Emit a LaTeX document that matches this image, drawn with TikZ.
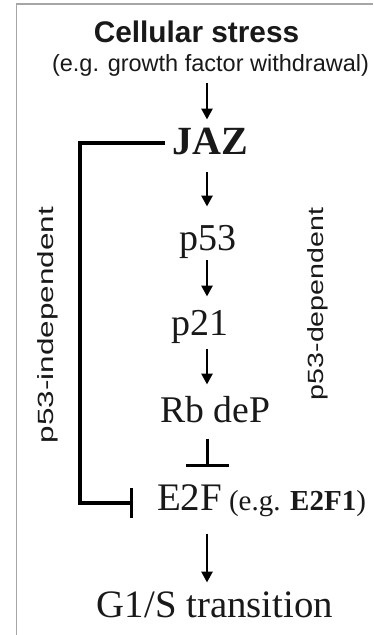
\documentclass[tikz,border=0pt]{standalone}
\usepackage{fontspec}
\setmainfont{Liberation Serif}
\setsansfont{Liberation Sans}
\usetikzlibrary{arrows.meta}
\newcommand{\fs}[1]{\fontsize{#1bp}{#1bp}\selectfont}
\begin{document}
\begin{tikzpicture}[x=1bp,y=-1bp,
  lbl/.style={inner sep=0pt, outer sep=0pt, text height=0pt, text depth=0pt, anchor=base, text=black!90},
  arr/.style={line width=2.8bp, -{Triangle[length=11bp,width=11bp]}},
  inh/.style={line width=3.2bp, -{Bar[width=30bp]}}
]
\useasboundingbox (0,0) rectangle (373,635);
\draw[gray!70, line width=1.4bp] (16.5,635) -- (16.5,4) -- (373,4);
\coordinate (ax) at (207,0);
\coordinate (lx) at (80,0);

\node[lbl, font=\sffamily\bfseries\fs{29.8}] (stress) at (196.5,43) {Cellular stress};
\node[lbl, font=\sffamily\fs{23.5}] (sub) at (210.5,72) {(e.g. growth factor withdrawal)};
\node[lbl, font=\rmfamily\bfseries\fs{40}] (JAZ) at (210,155) {JAZ};
\node[lbl, font=\rmfamily\fs{38}] (p53) at (208,250) {p53};
\node[lbl, font=\rmfamily\fs{38}] (p21) at (200,335) {p21};
\node[lbl, font=\rmfamily\fs{37.7}] (Rb) at (215,422) {Rb deP};
\node[lbl, anchor=base west, font=\rmfamily\fs{39}] (E2F) at (157,510) {E2F\hspace{7bp}{\fs{29}(e.g. \textbf{E2F1})}};
\node[lbl, font=\rmfamily\fs{38.8}] (G1S) at (215,617) {G1/S transition};

\node[lbl, anchor=center, font=\sffamily\fs{22}, rotate=90, xscale=1.43] (indep) at (53,325) {p53-independent};
\node[lbl, anchor=center, font=\sffamily\fs{22}, rotate=90, xscale=1.3] (dep) at (323,304) {p53-dependent};

\draw[arr, shorten <=11bp, shorten >=35bp] (sub.south -| ax) -- (JAZ.north -| ax);
\draw[arr, shorten <=17bp, shorten >=43bp] (JAZ.south -| ax) -- (p53.north -| ax);
\draw[arr, shorten <=10bp, shorten >=38bp] (p53.south -| ax) -- (p21.north -| ax);
\draw[arr, shorten <=13bp, shorten >=37bp] (p21.south -| ax) -- (Rb.north -| ax);
\draw[line width=3bp, -{Bar[width=43bp]}, shorten <=16bp, shorten >=43bp] (Rb.south -| ax) -- (E2F.north -| ax);
\draw[arr, shorten <=23bp, shorten >=34bp] (E2F.south -| ax) -- (G1S.north -| ax);

\coordinate (jzl) at ([yshift=12bp]JAZ.west);
\coordinate (e2l) at ([yshift=7bp]E2F.west);
\draw[inh, shorten <=7bp, shorten >=24bp] (jzl) -- (jzl -| lx) -- (e2l -| lx) -- (e2l);
\end{tikzpicture}
\end{document}
